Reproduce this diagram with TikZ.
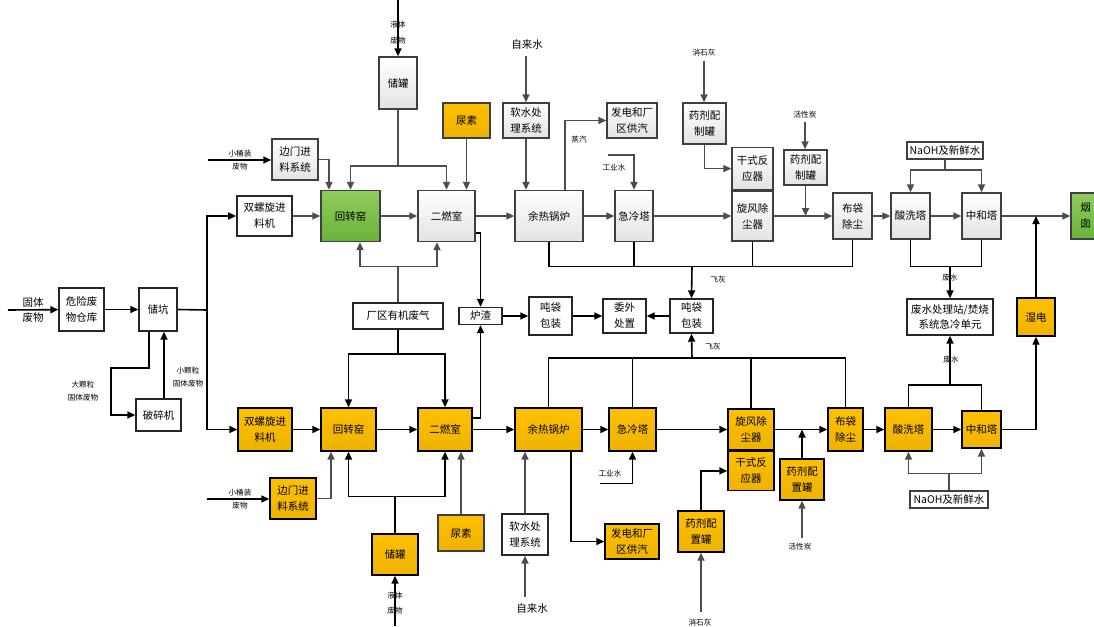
\documentclass[tikz,border=0pt]{standalone}
\usepackage{fontspec}
\newfontfamily\cjk{Noto Sans CJK SC}
\usetikzlibrary{arrows.meta}

\definecolor{boxg}{HTML}{3F3F3F}
\definecolor{lineg}{HTML}{4D4D4D}
\definecolor{orng}{HTML}{FFC000}
\definecolor{grnt}{HTML}{8FCD5C}
\definecolor{grnb}{HTML}{6AB23C}

\tikzset{
  box/.style={line width=1.4pt, inner sep=1pt, align=center,
    font=\cjk\fontsize{10.5}{16}\selectfont},
  greybox/.style={box, draw=boxg, top color=white, bottom color=black!11},
  whitebox/.style={box, draw=black!85, fill=white},
  orangebox/.style={box, draw=black, top color=orng, bottom color=orng!93!black},
  greenbox/.style={box, draw=boxg, top color=grnt, bottom color=grnb},
  lbl/.style={inner sep=0pt, align=center, font=\cjk\fontsize{7.6}{13}\selectfont},
  biglbl/.style={inner sep=0pt, align=center, font=\cjk\fontsize{10.5}{15}\selectfont},
  flowg/.style={line width=1.6pt, draw=lineg},
  flowk/.style={line width=1.6pt, draw=black}
}

\begin{document}
\begin{tikzpicture}[x=1pt, y=-1pt, >={Triangle[length=8pt,width=7pt]}]
\useasboundingbox (0,0) rectangle (1094,626);

% 进料与储坑
\node[whitebox, minimum width=45, minimum height=43] (wxf) at (81.5,309.5) {危险废\\物仓库};
\node[whitebox, minimum width=38, minimum height=43] (ck) at (158,309.5) {储坑};
\node[whitebox, minimum width=45, minimum height=32] (psj) at (158.5,415) {破碎机};
\node[biglbl] (gtfw) at (33,310) {固体\\废物};
\node[lbl] (dkl) at (83,391) {大颗粒\\固体废物};
\node[lbl] (xkl) at (188,377) {小颗粒\\固体废物};
\coordinate (in0) at (8,310);
\coordinate (split) at (207,310);
\coordinate (bend1) at (111,368);

% 一期线（上）
\node[whitebox, line width=1.8pt, minimum width=55, minimum height=40] (fs1) at (264.5,216) {双螺旋进\\料机};
\node[greenbox, minimum width=59, minimum height=51] (hzy1) at (350.5,216) {回转窑};
\node[greybox, minimum width=57, minimum height=51] (erc1) at (446.5,216) {二燃室};
\node[greybox, minimum width=68, minimum height=51] (yr1) at (549,216) {余热锅炉};
\node[greybox, minimum width=38, minimum height=51] (jl1) at (634,216) {急冷塔};
\node[greybox, minimum width=41, minimum height=50] (xf1) at (752.5,216) {旋风除\\尘器};
\node[greybox, minimum width=41, minimum height=42, anchor=south] (gs1) at (xf1.north) {干式反\\应器};
\node[greybox, minimum width=43, minimum height=41] (yjA1) at (704.5,123.5) {药剂配\\制罐};
\node[greybox, minimum width=43, minimum height=35] (yjB1) at (805.5,167.5) {药剂配\\制罐};
\node[greybox, minimum width=39, minimum height=46] (bd1) at (852.5,216) {布袋\\除尘};
\node[greybox, minimum width=39, minimum height=46] (sx1) at (910.5,216) {酸洗塔};
\node[greybox, minimum width=39, minimum height=46] (zh1) at (981.5,216) {中和塔};
\node[greenbox, minimum width=29, minimum height=46] (yc) at (1085.5,216) {烟\\囱};
\node[whitebox, draw=boxg, minimum width=76, minimum height=17] (naoh1) at (945,150.5) {NaOH及新鲜水};
\node[greybox, minimum width=38, minimum height=52] (cg1) at (398,83) {储罐};
\node[orangebox, draw=boxg, minimum width=47, minimum height=35] (ns1) at (466.5,120.5) {尿素};
\node[greybox, minimum width=46, minimum height=35] (rs1) at (526,120.5) {软水处\\理系统};
\node[greybox, minimum width=50, minimum height=35] (fd1) at (632,120.5) {发电和厂\\区供汽};
\node[greybox, minimum width=46, minimum height=41] (bm1) at (295,159.5) {边门进\\料系统};

% 中间公用
\node[whitebox, minimum width=90, minimum height=26] (cq) at (398,316) {厂区有机废气};
\node[whitebox, minimum width=43, minimum height=17] (lz) at (480.5,316) {炉渣};
\node[whitebox, minimum width=43, minimum height=38] (tdL) at (550.5,316) {吨袋\\包装};
\node[whitebox, minimum width=43, minimum height=34] (ww) at (624.5,316) {委外\\处置};
\node[whitebox, minimum width=43, minimum height=34] (tdR) at (691.5,316) {吨袋\\包装};
\node[whitebox, minimum width=86, minimum height=36, font=\cjk\fontsize{10.5}{15}\selectfont] (fscl) at (950,317) {废水处理站/焚烧\\系统急冷单元};
\node[orangebox, minimum width=38, minimum height=38] (sd) at (1036,317) {湿电};

% 二期线（下）
\node[orangebox, minimum width=54, minimum height=43] (fs2) at (265,429.5) {双螺旋进\\料机};
\node[orangebox, minimum width=55, minimum height=43] (hzy2) at (348.5,429.5) {回转窑};
\node[orangebox, minimum width=54, minimum height=43] (erc2) at (445,429.5) {二燃室};
\node[orangebox, minimum width=67, minimum height=43] (yr2) at (548.5,429.5) {余热锅炉};
\node[orangebox, minimum width=47, minimum height=43] (jl2) at (632.5,429.5) {急冷塔};
\node[orangebox, minimum width=46, minimum height=41] (xf2) at (751,429.5) {旋风除\\尘器};
\node[orangebox, minimum width=46, minimum height=39, anchor=north] (gs2) at (xf2.south) {干式反\\应器};
\node[orangebox, minimum width=44, minimum height=41] (yjB2) at (802,479.5) {药剂配\\置罐};
\node[orangebox, minimum width=46, minimum height=41] (yjA2) at (701,531.5) {药剂配\\置罐};
\node[orangebox, minimum width=54, minimum height=35] (fd2) at (632,541.5) {发电和厂\\区供汽};
\node[whitebox, minimum width=46, minimum height=41] (rs2) at (525,534.5) {软水处\\理系统};
\node[orangebox, draw=boxg, minimum width=46, minimum height=36] (ns2) at (461,533) {尿素};
\node[orangebox, minimum width=46, minimum height=41] (cg2) at (395,554.5) {储罐};
\node[orangebox, minimum width=46, minimum height=41] (bm2) at (293,498.5) {边门进\\料系统};
\node[orangebox, minimum width=35, minimum height=43] (bd2) at (845.5,429.5) {布袋\\除尘};
\node[orangebox, minimum width=47, minimum height=43] (sx2) at (908.5,429.5) {酸洗塔};
\node[orangebox, minimum width=39, minimum height=37] (zh2) at (981.5,429.5) {中和塔};
\node[whitebox, draw=boxg, minimum width=78, minimum height=17] (naoh2) at (949,499.5) {NaOH及新鲜水};

% 外部物料标注
\node[lbl] (xtz1) at (240,160) {小桶装\\废物};
\node[lbl] (xtz2) at (240,499) {小桶装\\废物};
\node[lbl, font=\cjk\fontsize{7.6}{16}\selectfont] (ytf1) at (398,33) {液体\\废物};
\node[lbl, font=\cjk\fontsize{7.6}{15}\selectfont] (ytf2) at (395,603.5) {液体\\废物};
\node[biglbl] (zls1) at (527,45) {自来水};
\node[biglbl] (zls2) at (532,608) {自来水};
\node[lbl] (xsh1) at (704,53) {消石灰};
\node[lbl] (xsh2) at (700,623) {消石灰};
\node[lbl] (hxt1) at (805,115) {活性炭};
\node[lbl] (hxt2) at (800,547) {活性炭};
\node[lbl] (gys1) at (614,168) {工业水};
\node[lbl] (gys2) at (610,474) {工业水};
\node[lbl] (zq1) at (579,140) {蒸汽};
\node[lbl] (fh1) at (718,280) {飞灰};
\node[lbl] (fh2) at (713,347) {飞灰};
\node[lbl] (fsl1) at (950,278) {废水};
\node[lbl] (fsl2) at (951,360) {废水};
\coordinate (xt1) at (208,160);
\coordinate (xt2) at (207,499);
\coordinate (ytin1) at (398,0);
\coordinate (ytin2) at (395,626);
\coordinate (gyz1) at (608,155);
\coordinate (gyz2) at (600,483.5);
\coordinate (fa1) at (692,266.5);
\coordinate (fa2) at (692,358);
\coordinate (wwj1) at (950,266.5);
\coordinate (wwj2) at (950,385);

% 储坑分配
\draw[flowk,->] (in0) -- (wxf);
\draw[flowk,->] (wxf) -- (ck);
\draw[flowk] (ck.east) -- (split);
\draw[flowk,->] (split) |- (fs1);
\draw[flowk,->] (split) |- (fs2);
\draw[flowk,->] ([xshift=-9pt]ck.south) |- (bend1) |- (psj.west);
\draw[flowk,->] ([xshift=5.5pt]psj.north) -- ([xshift=5.5pt]psj.north |- ck.south);

% 上线主流程
\draw[flowg,->] (fs1) -- (hzy1);
\draw[flowg,->] (hzy1) -- (erc1);
\draw[flowg,->] (erc1) -- (yr1);
\draw[flowg,->] (yr1) -- (jl1);
\draw[flowg,->] (jl1) -- (xf1);
\draw[flowg,->] (xf1) -- (bd1);
\draw[flowg,->] (bd1) -- (sx1);
\draw[flowg,->] (sx1) -- (zh1);
\draw[flowg,->] (zh1) -- (yc);
\draw[flowk,->] (xt1) -- (xt1 -| bm1.west);
\draw[flowg,->] (bm1.east) -| ([xshift=-21.5pt]hzy1.north);
\draw[flowk,->] (ytin1) -- (cg1.north);
\draw[flowg] (cg1.south) -- ++(0,56) coordinate (cgj1);
\draw[flowg,->] (cgj1) -| (hzy1.north);
\draw[flowg,->] (cgj1) -| (erc1.north);
\draw[flowg,->] (ns1.south) -- (ns1.south |- erc1.north);
\draw[flowg,->] (rs1.north |- zls1.south) ++(0,6) -- (rs1.north);
\draw[flowg,->] (rs1.south) -- (rs1.south |- yr1.north);
\draw[flowg,->] ([xshift=16pt]yr1.north) |- (fd1.west);
\draw[flowg,->] (gyz1) -| (jl1.north);
\draw[flowg,->] ([yshift=-4pt]xsh1.south) -- (xsh1.south |- yjA1.north);
\draw[flowg,->] (yjA1.south) |- (gs1.west);
\draw[flowg,->] ([yshift=-3pt]hxt1.south) -- (hxt1.south |- yjB1.north);
\draw[flowg,->] (yjB1.south) -- (yjB1.south |- bd1.west);
\draw[flowg] (naoh1.south) -- ++(0,10) coordinate (naj1);
\draw[flowg,->] (naj1) -| (sx1.north);
\draw[flowg,->] (naj1) -| (zh1.north);
\draw[flowk,->] (sd.north) -- (sd.north |- zh1.east);
% 上线飞灰与废水
\draw[flowk] (yr1.south) |- (fa1) -| (bd1.south);
\draw[flowk] (jl1.south) -- (jl1.south |- fa1);
\draw[flowk] (xf1.south) -- (xf1.south |- fa1);
\draw[flowk,->] (fa1) -- (tdR.north);
\draw[flowk] (sx1.south) |- (wwj1) -| (zh1.south);
\draw[flowk,->] (wwj1) -- (fscl.north);

% 厂区废气与炉渣
\draw[flowg] (cq.north) -- ++(0,-36) coordinate (cqj1);
\draw[flowg,->] (cqj1) -| ([xshift=9.5pt]hzy1.south);
\draw[flowg,->] (cqj1) -| ([xshift=-9.5pt]erc1.south);
\draw[flowk] (cq.south) -- ++(0,24) coordinate (cqj2);
\draw[flowk,->] (cqj2) -| (hzy2.north);
\draw[flowk,->] (cqj2) -| (erc2.north);
\draw[flowk,->] ([yshift=-17pt]erc1.east) -| (lz.north);
\draw[flowk,->] ([yshift=11.5pt]erc2.east) -| (lz.south);
\draw[flowk,->] (lz) -- (tdL);
\draw[flowk,->] (tdL) -- (ww);
\draw[flowk,->] (tdR) -- (ww);

% 下线主流程
\draw[flowk,->] (fs2) -- (hzy2);
\draw[flowk,->] (hzy2) -- (erc2);
\draw[flowk,->] (erc2) -- (yr2);
\draw[flowk,->] (yr2) -- (jl2);
\draw[flowk,->] (jl2) -- (xf2);
\draw[flowk,->] (xf2) -- (bd2);
\draw[flowk,->] (bd2) -- (sx2);
\draw[flowk,->] (sx2) -- (zh2);
\draw[flowk,->] (xt2) -- (xt2 -| bm2.west);
\draw[flowg,->] (bm2.east) -| ([xshift=-17.5pt]hzy2.south);
\draw[flowk,->] (ytin2) -- (cg2.south);
\draw[flowk] (cg2.north) -- ++(0,-37) coordinate (cgj2);
\draw[flowk,->] (cgj2) -| (hzy2.south);
\draw[flowk,->] (cgj2) -| (erc2.south);
\draw[flowg,->] (ns2.north) -- (ns2.north |- erc2.south);
\draw[flowg,->] (rs2.north) -- (rs2.north |- yr2.south);
\draw[flowg,->] (rs2.south |- zls2.north) ++(0,-6) -- (rs2.south);
\draw[flowk,->] ([xshift=22.5pt]yr2.south) |- (fd2.west);
\draw[flowk,->] (gyz2) -| (jl2.south);
\draw[flowk,->] (yjA2.north) |- (gs2.west);
\draw[flowk,->] (yjB2.north) -- (yjB2.north |- xf2.east);
\draw[flowg,->] ([yshift=5pt]hxt2.north -| yjB2.south) -- (yjB2.south);
\draw[flowg,->] ([yshift=7pt]xsh2.north -| yjA2.south) -- (yjA2.south);
\draw[flowg] (naoh2.north) -- ++(0,-17) coordinate (naj2);
\draw[flowg,->] (naj2) -| (sx2.south);
\draw[flowg,->] (naj2) -| (zh2.south);
\draw[flowk,->] (zh2.east) -| (sd.south);
% 下线飞灰与废水
\draw[flowk] (yr2.north) |- (fa2) -| (bd2.north);
\draw[flowk] (jl2.north) -- (jl2.north |- fa2);
\draw[flowk] (xf2.north) -- (xf2.north |- fa2);
\draw[flowk,->] (fa2) -- (tdR.south);
\draw[flowk] (sx2.north) |- (wwj2) -| (zh2.north);
\draw[flowk,->] (wwj2) -- (fscl.south);
\end{tikzpicture}
\end{document}
